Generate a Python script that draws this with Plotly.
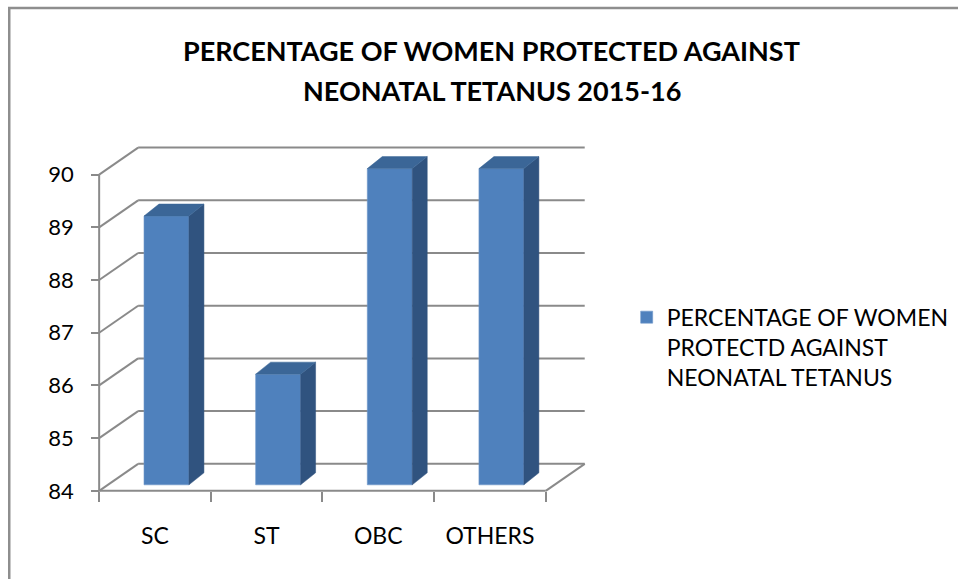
import plotly.graph_objects as go

# ---------------- data ----------------
categories = ["SC", "ST", "OBC", "OTHERS"]
values = [89.1, 86.1, 90.0, 90.0]
y_ticks = [84, 85, 86, 87, 88, 89, 90]
series_name = "PERCENTAGE OF WOMEN<br>PROTECTD AGAINST<br>NEONATAL TETANUS"
title_line1 = "PERCENTAGE OF WOMEN PROTECTED AGAINST"
title_line2 = "NEONATAL TETANUS 2015-16"

# ---------------- geometry / style ----------------
W, H = 958, 579
FONT = "Lato"
BASE = y_ticks[0]
TOP = y_ticks[-1]
X0 = -0.5
X1 = len(categories) - 0.5

PXX = 111.75   # px per x unit
PXY = 52.67    # px per y unit
XR = [-0.6, 3.95]
YR = [83.75, 90.6]
ML = 99 - (X0 - XR[0]) * PXX
PW = (XR[1] - XR[0]) * PXX
MR = W - ML - PW
MT = 175 - (YR[1] - TOP) * PXY
PH = (YR[1] - YR[0]) * PXY
MB = H - MT - PH

# wall depth (in data units)
WDX = 39 / PXX
WDY = 27 / PXY
# bar front offset, width and depth
BFX = 11.5 / PXX
BFY = 6 / PXY
BW = 45 / PXX
BDX = 15 / PXX
BDY = 12 / PXY

GRID = "#8a8a8a"
FRONT = "#4F81BD"
SIDE = "#30537f"
TOPC = "#3b6697"


def px_x(px):
    return (px - ML) / PW


def px_y(py):
    return (H - MB - py) / PH


fig = go.Figure()

# front faces
fig.add_trace(go.Bar(
    x=[i + BFX for i in range(len(categories))],
    y=[v - BASE for v in values],
    base=BASE + BFY,
    width=BW,
    marker=dict(color=FRONT, line=dict(color="#6f97c9", width=0.6)),
    name=series_name,
    showlegend=True,
    hoverinfo="skip",
))

# side faces and top faces
sx, sy, tx, ty = [], [], [], []
for i, v in enumerate(values):
    xl = i + BFX - BW / 2
    xr = i + BFX + BW / 2
    b = BASE + BFY
    t = v + BFY
    sx += [xr, xr + BDX, xr + BDX, xr, xr, None]
    sy += [b, b + BDY, t + BDY, t, b, None]
    tx += [xl, xl + BDX, xr + BDX, xr, xl, None]
    ty += [t, t + BDY, t + BDY, t, t, None]

fig.add_trace(go.Scatter(x=sx, y=sy, mode="lines", fill="toself", fillcolor=SIDE,
                         line=dict(width=0.5, color=SIDE), showlegend=False, hoverinfo="skip"))
fig.add_trace(go.Scatter(x=tx, y=ty, mode="lines", fill="toself", fillcolor=TOPC,
                         line=dict(width=0.5, color=TOPC), showlegend=False, hoverinfo="skip"))

# gridlines: back wall + left wall
shapes = []
line = dict(color=GRID, width=2)
for v in y_ticks:
    shapes.append(dict(type="line", xref="x", yref="y", x0=X0 + WDX, x1=X1 + WDX,
                       y0=v + WDY, y1=v + WDY, line=line, layer="below"))
    shapes.append(dict(type="line", xref="x", yref="y", x0=X0, x1=X0 + WDX,
                       y0=v, y1=v + WDY, line=line, layer="below"))
# floor front edge and right edge
shapes.append(dict(type="line", xref="x", yref="y", x0=X0, x1=X1, y0=BASE, y1=BASE,
                   line=line, layer="below"))
shapes.append(dict(type="line", xref="x", yref="y", x0=X1, x1=X1 + WDX, y0=BASE, y1=BASE + WDY,
                   line=line, layer="below"))
# front vertical axis line
shapes.append(dict(type="line", xref="x", yref="y", x0=X0, x1=X0, y0=BASE, y1=TOP,
                   line=line, layer="below"))
# outer chart border
shapes.append(dict(type="rect", xref="paper", yref="paper",
                   x0=px_x(9), x1=px_x(990), y0=px_y(8.5), y1=px_y(620),
                   line=dict(color="#8e8e8e", width=2.5), layer="below"))

fig.update_layout(
    width=W, height=H,
    paper_bgcolor="white", plot_bgcolor="rgba(0,0,0,0)",
    margin=dict(l=ML, r=MR, t=MT, b=MB, autoexpand=False),
    font=dict(family=FONT, color="black"),
    showlegend=True,
    hovermode=False,
    shapes=shapes,
    xaxis=dict(
        range=XR, showgrid=False, zeroline=False, showline=False,
        anchor="free", position=(BASE - YR[0]) / (YR[1] - YR[0]),
        tickmode="array", tickvals=list(range(len(categories))), ticktext=categories,
        ticks="", tickfont=dict(size=23, family=FONT),
        ticklabelstandoff=29,
        minor=dict(tickmode="array", tickvals=[i - 0.5 for i in range(len(categories) + 1)],
                   ticks="outside", ticklen=10, tickwidth=2, tickcolor=GRID, showgrid=False),
    ),
    yaxis=dict(
        range=YR, showgrid=False, zeroline=False, showline=False,
        anchor="free", position=(X0 - XR[0]) / (XR[1] - XR[0]),
        tickmode="array", tickvals=y_ticks,
        ticks="outside", ticklen=8, tickwidth=2, tickcolor=GRID,
        tickfont=dict(size=22, family=FONT),
        ticklabelstandoff=13,
    ),
    legend=dict(
        x=px_x(627), y=px_y(296), xanchor="left", yanchor="top",
        valign="top", font=dict(size=23, family=FONT),
        bgcolor="rgba(0,0,0,0)",
    ),
    annotations=[
        dict(text="<b>" + title_line1 + "</b>", xref="paper", yref="paper",
             x=px_x(492), y=px_y(51), xanchor="center", yanchor="middle",
             showarrow=False, font=dict(size=27, family=FONT)),
        dict(text="<b>" + title_line2 + "</b>", xref="paper", yref="paper",
             x=px_x(492), y=px_y(90.5), xanchor="center", yanchor="middle",
             showarrow=False, font=dict(size=27, family=FONT)),
    ],
)

fig.write_html("out.html", config={"displayModeBar": False},
               post_script="document.body.style.margin='0';")
